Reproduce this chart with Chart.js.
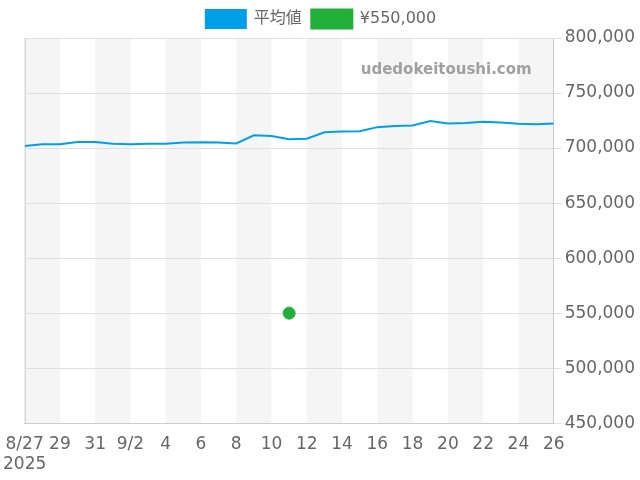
<!DOCTYPE html>
<html>
<head>
<meta charset="utf-8">
<script src="https://cdn.jsdelivr.net/npm/chart.js@4"></script>
<style>
  body { margin: 0; background: #fff; }
  #wrap { width: 640px; height: 480px; }
</style>
</head>
<body>
<div id="wrap"><canvas id="chart"></canvas></div>
<script>
// Dates 8/27 .. 9/26, 2025
const dayLabels = ['8/27', '28', '29', '30', '31', '9/1', '9/2', '3', '4', '5', '6', '7', '8', '9', '10',
    '11', '12', '13', '14', '15', '16', '17', '18', '19', '20', '21', '22', '23', '24', '25', '26'];
const averagePrices = [701800, 703400, 703400, 705500, 705500, 704000, 703500, 704000, 704000, 705000,
    705300, 705000, 704200, 711600, 711000, 708000, 708500, 714300, 715000, 715300,
    719000, 720000, 720500, 724500, 722400, 722700, 723800, 723200, 722000, 721700, 722300];
const listingDay = 15; // 9/11
const listingPrice = 550000;
const yTicks = [450000, 500000, 550000, 600000, 650000, 700000, 750000, 800000];

const fontFamily = '"DejaVu Sans", "Noto Sans CJK JP", sans-serif';

const lineData = averagePrices.map((v, i) => ({ x: i, y: v }));
const dotData = [{ x: listingDay, y: listingPrice }];

// Alternating grey bands, two days wide
const bandPlugin = {
    id: 'bands',
    beforeDraw(chart) {
        const { ctx, chartArea, scales } = chart;
        ctx.save();
        ctx.fillStyle = '#f5f5f5';
        for (let d = 0; d < dayLabels.length - 1; d += 4) {
            const x1 = scales.x.getPixelForValue(d);
            const x2 = scales.x.getPixelForValue(Math.min(d + 2, dayLabels.length - 1));
            ctx.fillRect(x1, chartArea.top, x2 - x1, chartArea.bottom - chartArea.top);
        }
        ctx.strokeStyle = '#ccc';
        ctx.lineWidth = 1;
        ctx.beginPath();
        ctx.moveTo(chartArea.left + 0.5, chartArea.top);
        ctx.lineTo(chartArea.left + 0.5, chartArea.bottom);
        ctx.stroke();
        ctx.restore();
    },
    afterDraw(chart) {
        const { ctx, chartArea } = chart;
        ctx.save();
        ctx.font = 'bold 15px ' + fontFamily;
        ctx.fillStyle = '#a0a0a0';
        ctx.textAlign = 'right';
        ctx.fillText('udedokeitoushi.com', chartArea.right - 22, chartArea.top + 32);
        ctx.restore();
    }
};

new Chart(document.getElementById('chart'), {
    type: 'line',
    data: {
        datasets: [{
            label: '平均値',
            data: lineData,
            borderColor: '#00a0e9',
            backgroundColor: '#00a0e9',
            borderWidth: 2,
            pointRadius: 0,
            tension: 0
        }, {
            label: '¥550,000',
            data: dotData,
            showLine: false,
            borderColor: '#22b03a',
            backgroundColor: '#22b03a',
            pointRadius: 6
        }]
    },
    options: {
        responsive: true,
        maintainAspectRatio: false,
        animation: false,
        layout: { padding: { left: 4, right: 2, top: 0, bottom: 2 } },
        plugins: {
            legend: {
                labels: {
                    boxWidth: 40,
                    boxHeight: 18,
                    color: '#666',
                    font: { size: 16, family: fontFamily }
                }
            },
            tooltip: { enabled: false }
        },
        scales: {
            x: {
                type: 'linear',
                min: 0,
                max: dayLabels.length - 1,
                afterBuildTicks(axis) {
                    axis.ticks = [];
                    for (let d = 0; d < dayLabels.length; d += 2) axis.ticks.push({ value: d });
                },
                ticks: {
                    color: '#666',
                    maxRotation: 0,
                    autoSkip: false,
                    font: { size: 17, family: fontFamily },
                    callback: (v) => v === 0 ? ['8/27', '2025'] : dayLabels[v]
                },
                grid: { display: false },
                border: { color: '#ccc' }
            },
            y: {
                position: 'right',
                min: 450000,
                max: 800000,
                afterBuildTicks(axis) {
                    axis.ticks = yTicks.map(v => ({ value: v }));
                },
                ticks: {
                    color: '#666',
                    font: { size: 17, family: fontFamily },
                    callback: (v) => v.toLocaleString('en-US')
                },
                grid: { color: '#e0e0e0' },
                border: { color: '#ccc' }
            }
        }
    },
    plugins: [bandPlugin]
});
</script>
</body>
</html>
